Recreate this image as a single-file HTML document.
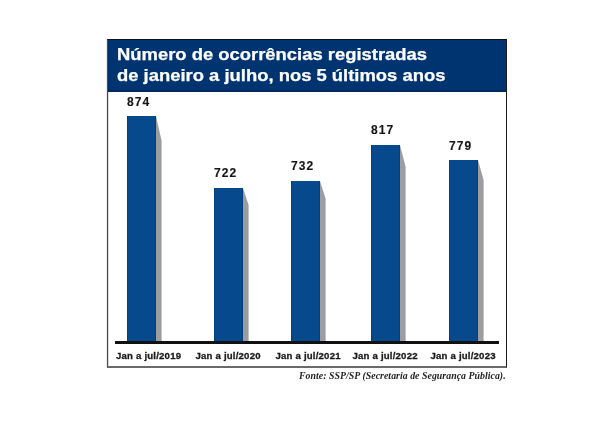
<!DOCTYPE html>
<html><head><meta charset="utf-8">
<style>
html,body{margin:0;padding:0;background:#fff;}
body{width:605px;height:439px;position:relative;overflow:hidden;font-family:"Liberation Sans",sans-serif;}
.layer{position:absolute;left:0;top:0;width:605px;height:439px;will-change:transform;}
.frame{position:absolute;left:107px;top:39px;width:398px;height:326px;border:1px solid #1c1c1c;border-left:1px solid #4a4a4a;border-top:1.5px solid #111;border-bottom:2px solid #6a6a6a;box-shadow:inset 1px 0 0 #dcdcdc,-1px 0 0 #ececec;}
.hdr{position:absolute;left:108px;top:40px;width:398px;height:52px;background:#003470;box-shadow:inset 0 -2px 0 #00295e;}
.t{position:absolute;left:117.3px;-webkit-text-stroke:0.25px #fff;color:#fff;font-weight:bold;font-size:17px;white-space:nowrap;line-height:20px;transform-origin:0 0;transform:scaleX(1.083);}
.bar{position:absolute;width:29px;background:#064a8d;box-shadow:inset 1px 0 0 #033f7e,inset -1px 0 0 #033f7e;}
.sh{position:absolute;}
.val{position:absolute;font-weight:bold;font-size:12px;color:#151515;white-space:nowrap;line-height:12px;letter-spacing:1.1px;-webkit-text-stroke:0.15px #151515;}
.cat{position:absolute;font-weight:bold;font-size:9.6px;color:#1a1a1a;white-space:nowrap;line-height:10px;top:351.3px;letter-spacing:0.2px;-webkit-text-stroke:0.3px #1a1a1a;}
.base{position:absolute;left:115px;top:341px;width:384px;height:3px;background:#111;}
.src{position:absolute;left:299px;top:371px;font-family:"Liberation Serif",serif;font-style:italic;font-weight:bold;font-size:9.8px;color:#222;white-space:nowrap;line-height:10px;letter-spacing:0.05px;}
</style></head><body>
<div class="layer">
<div class="frame"></div>
<div class="hdr"></div>
<div class="t" style="top:45px">Número de ocorrências registradas</div>
<div class="t" style="top:65.5px">de janeiro a julho, nos 5 últimos anos</div>

<div class="bar" style="left:127px;top:116px;height:225.5px;width:29px"></div>
<svg class="sh" style="left:156.0px;top:116px" width="7" height="225.5"><polygon points="0,0 5.6,24.8 5.6,225.5 0,225.5" fill="#9c9da1"/></svg>
<div class="val" style="left:127px;top:96px">874</div>

<div class="bar" style="left:213.8px;top:188px;height:153.5px;width:28.8px"></div>
<svg class="sh" style="left:242.6px;top:188px" width="7" height="153.5"><polygon points="0,0 5.6,16.9 5.6,153.5 0,153.5" fill="#9c9da1"/></svg>
<div class="val" style="left:214px;top:167px">722</div>

<div class="bar" style="left:291px;top:180.5px;height:161.0px;width:29px"></div>
<svg class="sh" style="left:320.0px;top:180.5px" width="7" height="161.0"><polygon points="0,0 5.6,17.7 5.6,161.0 0,161.0" fill="#9c9da1"/></svg>
<div class="val" style="left:291px;top:160px">732</div>

<div class="bar" style="left:371px;top:144.5px;height:197.0px;width:29px"></div>
<svg class="sh" style="left:400.0px;top:144.5px" width="7" height="197.0"><polygon points="0,0 5.6,21.7 5.6,197.0 0,197.0" fill="#9c9da1"/></svg>
<div class="val" style="left:371px;top:124px">817</div>

<div class="bar" style="left:449px;top:160.2px;height:181.3px;width:28.8px"></div>
<svg class="sh" style="left:477.8px;top:160.2px" width="7" height="181.3"><polygon points="0,0 5.6,19.9 5.6,181.3 0,181.3" fill="#9c9da1"/></svg>
<div class="val" style="left:449px;top:140px">779</div>

<div class="base"></div>
<div class="cat" style="left:116px">Jan a jul/2019</div>
<div class="cat" style="left:195.5px">Jan a jul/2020</div>
<div class="cat" style="left:275.5px">Jan a jul/2021</div>
<div class="cat" style="left:352.5px">Jan a jul/2022</div>
<div class="cat" style="left:430.5px">Jan a jul/2023</div>

<div class="src">Fonte: SSP/SP (Secretaria de Segurança Pública).</div>
</div>
</body></html>
